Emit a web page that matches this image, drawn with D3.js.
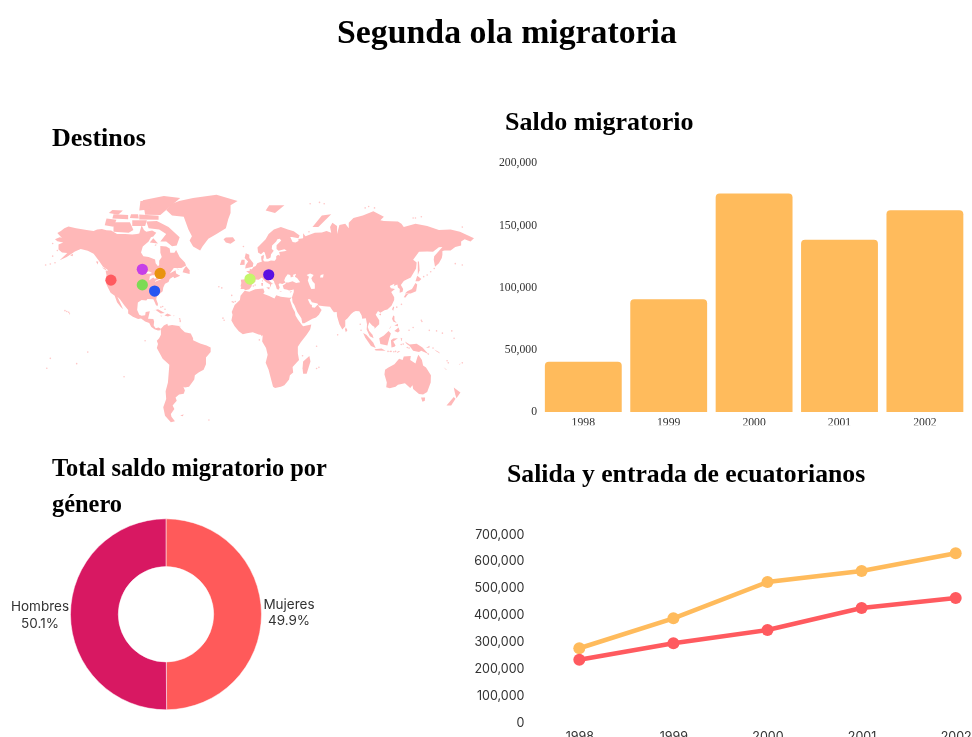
<!DOCTYPE html>
<html lang="es">
<head>
<meta charset="utf-8">
<title>Segunda ola migratoria</title>
<script src="https://cdn.jsdelivr.net/npm/d3@7/dist/d3.min.js"></script>
<style>
html,body{margin:0;padding:0;background:#fff;overflow:hidden}
svg{display:block;filter:blur(0.35px)}
.head{font-family:"Liberation Serif",serif;font-weight:700;fill:#000}
.serifAxis text{font-family:"Liberation Serif",serif;font-size:11.7px;fill:#333}
.sansAxis text{font-family:Inter,sans-serif;font-size:12.5px;fill:#333}
.pieLabel{font-family:Inter,sans-serif;font-size:13.5px;fill:#333;text-anchor:middle}
</style>
</head>
<body>
<div id="chart"></div>
<script>
// ---- Text
const mainTitle = "Segunda ola migratoria";
const mapTitle = "Destinos";
const barTitle = "Saldo migratorio";
const pieTitleLines = ["Total saldo migratorio por", "género"];
const lineTitle = "Salida y entrada de ecuatorianos";

// ---- Bar chart data
const years = ["1998", "1999", "2000", "2001", "2002"];
const saldo = [40400, 90500, 175500, 138400, 162000];
const barTicks = [0, 50000, 100000, 150000, 200000];

// ---- Line chart data
const salidas = [274500, 386000, 521000, 562000, 628000];
const entradas = [232000, 293000, 342600, 424500, 461800];
const lineTicks = [0, 100000, 200000, 300000, 400000, 500000, 600000, 700000];

// ---- Donut data
const genero = ["Mujeres", "Hombres"];
const generoPct = [49.9, 50.1];

// ---- Map points [lon, lat]
const destinos = [[-120.2, 42.8], [-93.4, 49.5], [-78.2, 47], [-93.4, 39.7], [-82.9, 35.6], [-1.4, 43.5], [14.6, 46.2]];
const destinoColors = ["#ff5a5f", "#c63fe8", "#e9930f", "#7cdb55", "#2756f2", "#c5f66b", "#5a10e2"];

// ---- Land outlines, lon/lat
const northAmerica = [[-168,65.6],[-164,66.5],[-162,66.2],[-163.5,67],[-166,68.4],[-163,69.3],[-160,70.5],[-156.5,71.3],[-150,70.5],[-141,69.7],[-135,69.3],[-132,70],[-128,70.2],[-124,69.6],[-120,69.5],[-115,68],[-108,68],[-102,67.8],[-98,68],[-96,68.2],[-94,71.8],[-92,69.8],[-90,69],[-85,69.5],[-81.5,68.5],[-84,66.8],[-86,66.5],[-88,64.5],[-93,62],[-94.5,59],[-92.5,57],[-88,56.5],[-82.5,55.2],[-82,53],[-80,51.3],[-79,52],[-79,54.5],[-76.8,56.5],[-78,58.8],[-78,62.3],[-73,62],[-70,61],[-69.5,58.8],[-66,58.8],[-64.5,60.3],[-61.5,56.5],[-57,53.5],[-56,51.8],[-60,50.2],[-66.5,50.2],[-70,47],[-65,49],[-64.5,47],[-61,45.5],[-66,44],[-67,45],[-70,43.5],[-71,41.6],[-74,40.5],[-75.5,38],[-76,35.5],[-78.5,33.8],[-81,32],[-81.5,30],[-80,26.8],[-80.5,25.2],[-81.8,26],[-82.8,28],[-84,30],[-89,30.2],[-90,29.2],[-94,29.6],[-97.2,27.8],[-97.8,22.5],[-96,19],[-94,18.2],[-91,18.7],[-90.5,21],[-87,21.5],[-88,18],[-88.5,16],[-84,15.8],[-83.3,14],[-83.7,11],[-82,9],[-79.5,9.5],[-77.5,8.6],[-78,7.5],[-80,7.3],[-83,8.3],[-85.7,10],[-87.5,13],[-91,14],[-94.5,16.2],[-97,15.8],[-101.5,17.5],[-105.5,20],[-105.5,22.5],[-109,26],[-112.5,30],[-114.7,31.8],[-112,27],[-109.8,23],[-112,24.8],[-115,28],[-117,32.5],[-120.5,34.5],[-122.5,37.5],[-124.2,40.3],[-124,46],[-124.7,48.4],[-122.5,49],[-127,51],[-130.5,54.5],[-135,58.3],[-140,59.8],[-146,60.8],[-151,59.5],[-158,56.5],[-164,54.7],[-157.5,58.7],[-162,59],[-165,60.5],[-165,63],[-161,64],[-166,64.6]];
const greenland = [[-73,78.2],[-68,76],[-58,75.5],[-54,70],[-51,67],[-53,65],[-50,62],[-44,60],[-42,62],[-37,65.8],[-30,68],[-22,70.5],[-20,74.5],[-18,77],[-18,80],[-12,81.5],[-30,83.6],[-50,82.5],[-62,81.5],[-68,80.5]];
const southAmerica = [[-77.5,8.6],[-75,11],[-72,12.3],[-71.5,10.8],[-68,11.5],[-62,10.7],[-60,8.5],[-57,6],[-52,5],[-50,1.5],[-50,0],[-44,-2.5],[-38.5,-4],[-35,-5.5],[-35,-9],[-39,-13],[-39,-18],[-41,-22],[-45,-23.8],[-48.5,-26],[-49,-29],[-53.5,-34],[-57,-34.5],[-58.3,-34],[-57,-36.5],[-58,-38.5],[-62,-39],[-65,-41],[-64,-43],[-67.5,-46],[-66,-48],[-69,-51],[-68.5,-52.5],[-65.5,-55],[-69,-55.5],[-74,-52],[-75.5,-47],[-73,-42],[-73.5,-37],[-71.5,-31],[-70.3,-18.5],[-76,-14],[-81,-6],[-80,-3],[-81,-0.5],[-79,1.5],[-77.5,4],[-77.5,7]];
const africa = [[-6,35.8],[-2,35.2],[3,36.8],[10,37.3],[11,35],[10,33.8],[15,32.3],[19.5,30.5],[21,32.8],[25,31.7],[32,31],[34.3,31.2],[32.6,29.8],[35,24],[37,21],[37.5,18.5],[39.5,15.5],[43,11.5],[44,10.5],[51,11.8],[50,8],[47,4],[42,-1.5],[39.5,-5],[39.5,-10],[40.5,-15],[35,-20],[35.5,-24],[32.7,-26],[32,-29],[28,-33],[25,-34],[20,-34.8],[18.3,-34],[17,-30],[14.5,-22],[12,-17],[13.7,-11],[12.3,-6],[9,-1],[9.5,3.8],[6,4.3],[1,6],[-4,5.2],[-7.5,4.5],[-11,6.8],[-14.5,10.5],[-17.3,14.7],[-16.3,19],[-17,21],[-14.5,26],[-10,29.5],[-9.5,32.5]];
const eurasia = [[-9.5,37],[-8.8,38.5],[-9.5,38.8],[-8.8,41],[-9.2,43],[-4,43.5],[-1.8,43.4],[-1.2,45],[-2.5,47.3],[-4.7,48.3],[-1.6,48.7],[-1.6,49.7],[0.2,49.5],[1.6,50.9],[3.5,51.5],[4.8,53],[7,53.6],[8.7,53.9],[8.2,55.5],[8.2,57],[10.5,57.7],[10.3,56],[9.8,54.8],[11,54],[14,54],[16.5,54.6],[18.7,54.5],[19.8,54.4],[21,55.5],[21,57],[22.6,57.7],[24.3,57.2],[23.5,59.2],[28,59.6],[30,60],[28,60.6],[23,59.9],[21.3,60.8],[21.3,62.7],[25.3,65],[24,65.8],[22,65.6],[21,64.5],[17.5,62.5],[17.2,60.7],[18.9,59.9],[16.6,58],[16.2,56.2],[14.3,55.5],[12.8,55.4],[11.2,58.9],[10.3,59.3],[8,58],[5.5,58.9],[5,61.5],[8,63.3],[12,65.5],[14.5,68],[19,70],[25,71],[31,70],[36,69.2],[41,67.3],[40,66],[34.5,66.6],[33,66.6],[35,64.2],[37.5,64],[40,64.7],[40,65.7],[44,66],[44,68.3],[46,67],[54,68.5],[60,68.7],[64,69.3],[68,68.5],[67,71],[69,73],[73,71.5],[73,68],[75,72],[80,72.5],[83,70.5],[83,73],[87,75],[95,76],[104,77.7],[113,75.5],[110,74],[113,73.7],[125,73.5],[128,72.5],[130,71],[140,72.5],[150,71.5],[160,69.7],[170,70],[178,69],[190,66],[187,64.5],[182,65.5],[179,64.5],[179,62.5],[174,61.8],[170,60],[165,60],[163,59.7],[163,57.8],[162.5,56],[160,53],[156.7,51],[155.6,55],[156,57],[163,61.8],[160,61.7],[155,59.3],[150,59.5],[143,59.3],[138,55],[141,53.5],[140.5,50],[136,44.5],[132,43],[130,42.3],[127.5,39.7],[129.5,37],[129,35.2],[126.5,34.4],[126.6,37],[125,38],[124.5,40],[121.5,39],[122,40.5],[118,39],[119,37.5],[122.5,37],[119.3,35],[121.8,31.5],[121.8,29.5],[119.5,25.5],[116,22.9],[113.5,22.2],[110,20.5],[108,21.7],[106,19],[109,15],[109,12],[105,8.7],[105,10],[103,11],[100.5,13.5],[99.2,10],[100.5,7],[103.3,4],[104.2,1.4],[101,3],[98.3,8],[98.6,12],[97.6,16.5],[94.5,16],[94,18.5],[92,21.5],[89,21.8],[87,21],[85,19.5],[82,16.5],[80,15],[80,10.5],[77.5,8],[75,12],[73,18],[72.7,21],[70.3,20.8],[69,22.3],[67,24.7],[62,25.2],[57,25.7],[56.3,27],[51.5,28],[50,30],[48,30],[50,26.5],[51.5,26],[51.5,24.5],[54,24],[56.3,26.2],[59.8,22.5],[57.5,19],[55,17],[52,16],[45,12.8],[43.3,12.8],[42.5,16.5],[39,21],[36.5,26],[35,28],[34.5,31.5],[36,35],[36,36.7],[32,36],[30.5,36.5],[27.5,37],[26.5,39.3],[29,40.5],[29.2,41.2],[31.5,41.2],[35,42],[38,41],[41.5,41.5],[39,44],[37,45],[38,46.8],[35,46],[36,45.2],[33.5,44.5],[33,46],[30.8,46.5],[28.8,44.5],[27.8,42.5],[29,41.2],[26.2,40.3],[24,40.8],[23,40],[24,38],[23,36.5],[21.5,37],[20.5,39.5],[19.5,41],[19,42.3],[15,44.5],[13.7,45.7],[12.3,45.2],[12.5,44],[16,41.8],[18.5,40.2],[17,40.4],[16,38],[15.7,40],[12.5,41.5],[10.3,43],[8.8,44.4],[6,43],[3.2,43.2],[3.2,41.8],[0.3,40],[-0.3,38.5],[-2,36.8],[-5.5,36.1],[-6.5,37]];
const australia = [[114,-22],[116.5,-20.6],[122,-18],[124,-16],[126,-14],[129,-15],[130,-12.3],[136,-12],[135.5,-15],[140,-17.5],[141.5,-13],[142.5,-11],[145.5,-15],[146.5,-19],[149,-20.5],[153.2,-26],[153,-31],[150,-37.5],[146.5,-39],[143,-38.7],[138,-35.5],[137.5,-33],[135.5,-34.7],[131,-31.5],[125,-32.5],[123,-34],[118,-35],[115,-34.3],[115.5,-31],[113.5,-25.5]];
const islands = [
  [[-81,73.7],[-71,71],[-61.5,66.5],[-64,62.5],[-68,62.2],[-73,64.5],[-78,64.5],[-73,68],[-79,70],[-88,70.5],[-90,73.5]],
  [[-118,69],[-105,68.5],[-101,69.8],[-104,73.2],[-118,73.2]],
  [[-91,76.3],[-78,76.2],[-61,82.5],[-75,83.2],[-93,81.8]],
  [[-96,78],[-86,78.5],[-88,81.5],[-95,81.5]],
  [[-125.5,71.8],[-118,71.2],[-115.5,74.2],[-124,74.8]],
  [[-96,74.3],[-79.5,74.2],[-79.5,75.9],[-96,76.4]],
  [[-119,74.8],[-105.5,74.5],[-105.5,76.2],[-118,76.5]],
  [[-104,75],[-96.5,74.8],[-97,76.5],[-103,76.5]],
  [[-122,77],[-114,76.3],[-110,78],[-119,78.2]],
  [[-102,71.5],[-91,71.5],[-89.5,74],[-102,74]],
  [[-87,64],[-80,63.5],[-84,66]],
  [[-83,62.3],[-81,62.8],[-82,63.2]],
  [[-59,47.7],[-53,46.7],[-53,49],[-56,51.5],[-58,49.5]],
  [[-64.5,49.8],[-61.7,49.2],[-63,49.9]],
  [[-128,50.7],[-123.5,48.4],[-125,50]],
  [[-133,54],[-131,54],[-131.5,52.3]],
  [[-85,22],[-80,23],[-74.2,20.2],[-77.7,19.9],[-82,22.5]],
  [[-74.5,18.5],[-72,20],[-68.5,18.6],[-71.5,17.7]],
  [[-78.3,18.3],[-76.3,18.2],[-77,17.7]],
  [[-67.2,18.4],[-65.7,18.3],[-66.5,17.9]],
  [[-156,20.7],[-155,19.8],[-155.6,19]],
  [[-155,57.5],[-152.5,58.3],[-153,57]],
  [[-61.8,10.7],[-61,10.8],[-61,10.1]],
  [[-61,-51.7],[-58,-51.2],[-59,-52.3]],
  [[-24,65.5],[-22,64],[-18,63.4],[-14,65],[-16,66.5],[-22,66.4]],
  [[44,-16],[49.3,-12],[50.3,-16],[47,-25],[44,-25],[43.5,-21]],
  [[-5.5,50],[1,51],[1.5,53],[-2,56],[-2,57.7],[-5,58.6],[-6,56],[-3,54],[-5,52]],
  [[-10,52],[-6,52.2],[-6,55],[-8.5,55]],
  [[12,78],[20,77],[28,80],[15,80]],
  [[52,71],[57,71],[68,76.5],[60,76]],
  [[12.5,38],[15.5,38.2],[15,36.7]],
  [[8.2,41],[9.7,41],[9.6,39.1],[8.5,39]],
  [[8.7,42.5],[9.5,43],[9.3,41.5]],
  [[23.6,35.5],[26.2,35.2],[24.8,34.9]],
  [[32.3,35],[34.5,35.6],[33.5,34.7]],
  [[142,46],[143.5,49],[143,54],[142,54],[142,49]],
  [[131,34],[136,34],[140.5,35.5],[141.5,40],[140,41],[137,37],[133,35.5]],
  [[140,42],[141.5,45.5],[145,43.5],[143,42]],
  [[130,31.5],[131.5,33.5],[134.5,34],[133,33],[131.5,31.3]],
  [[120,23],[121,25],[121.8,24.5],[121,22]],
  [[108.7,19.3],[110.5,20],[110.5,18.5]],
  [[79.8,8],[80.5,9.7],[81.8,7.5],[80.5,6]],
  [[120,16],[121,18.5],[122,18],[122,15],[124,13],[121,14]],
  [[122,7],[125.5,9.5],[126.5,7],[125,5.7]],
  [[122,11],[125,12.3],[125,10.5]],
  [[117.3,8.5],[119.5,11],[118.5,9.2]],
  [[109,1.5],[113,3.5],[117,7],[119,5],[117.5,1],[116,-4],[110,-3]],
  [[95.3,5.5],[98,4],[104,-2],[106,-6],[102,-4.5],[97,2]],
  [[105,-6.8],[111,-6.3],[114.5,-8],[106,-7.8]],
  [[119.5,-5.5],[119,0],[121,1.3],[125,1.5],[121,-1],[123,-4],[122,-5]],
  [[127.5,2],[128.5,0],[127.8,-0.8]],
  [[124,-9.8],[127,-8.4],[125,-8.3]],
  [[116,-8.8],[120,-8.3],[119,-9]],
  [[131,-1],[135,-3.3],[141,-2.7],[146,-5.5],[151,-10.5],[145,-8],[143,-9],[138,-8],[135,-4.5],[132.5,-3]],
  [[149,-6],[152,-4.2],[152,-5.5]],
  [[156,-7],[160,-9],[161,-10],[158,-8.6]],
  [[177,-18],[178.5,-17.5],[178,-18.3]],
  [[164,-20.3],[167,-22.2],[165.8,-21.8]],
  [[144.7,-41],[148.2,-41],[148,-43],[146,-43.6]],
  [[172.7,-34.5],[178.4,-37.7],[175,-41.5],[174,-39]],
  [[172.7,-40.7],[174.2,-41.7],[170.5,-46],[166.5,-46]]
];
const lakes = [
  [[-91,46.9],[-88,48.3],[-85,47.3],[-87,46.8]],
  [[-87.5,42.5],[-87,45.3],[-85,45.8],[-82,45.8],[-81,44.8],[-82.5,43.5],[-84,44.5],[-86,43.5]],
  [[-82.5,41.8],[-79.5,42.8],[-77,43.5],[-77,43.9],[-79.5,43.4],[-82.5,42.2]],
  [[47,46],[50,47],[53,46],[51,44],[52,42],[54,40.5],[54,37.2],[51,37],[49.5,39.5],[48,42.5],[49,45]],
  [[59,46],[61.5,46.5],[61,44.5],[58.5,44.5]]
];
// small islands, lon/lat
const specks = [[145,15],[145.5,14],[138,9.5],[151.8,7.4],[158,7],[163,5.3],[171,7],[173,1.4],[167,-15.5],[168,-17],[180,-17],[-175,-21],[-172,-13.7],[-149.5,-17.6],[-140,-9],[-157.9,21.4],[-159.5,22],[-156.3,20.8],[-91,-0.5],[-109,-27],[-36.5,-54.3],[-25.5,37.7],[-28,38.5],[-17,32.7],[-15.5,28],[-16.5,28.3],[-14,28.5],[-23.5,15],[-24.5,16.5],[6.6,0.2],[8.7,3.5],[43.5,-11.7],[57.5,-20.3],[55.5,-21.1],[55.5,-4.6],[73.5,4],[92.8,12],[93.5,7.5],[-61,15],[-61.5,16],[-61,14],[-77.5,24.5],[-76,25],[-74,23],[-7,62],[3,39.6],[1.5,39],[147,45],[150,46],[153,48],[156,50],[-176,52],[-172,52.6],[180,52],[174,52.8],[-168,53.3],[-170,57],[-170,63.5],[-166,60],[180,71],[140,75],[145,75.5],[138,75],[97,79],[100,79.5],[105,79],[50,80.5],[58,81],[62,80.5],[49,69],[128,26.5],[124,24.5],[116.5,-8.5],[119,-8.5],[121.5,-8.7],[123,-8.5],[127.8,-3.3],[129.5,-3],[128,1],[133,-5.5],[134.5,-6],[134.5,7.5],[151,-10.5],[155,-6]];

const W = 972, H = 737;
const svg = d3.select("#chart").append("svg").attr("width", W).attr("height", H).attr("viewBox", [0, 0, W, H]);

// ---- Headings
const heading = (txt, x, y, size, anchor) => svg.append("text").attr("class", "head")
  .attr("x", x).attr("y", y).attr("font-size", size).attr("text-anchor", anchor || "start").text(txt);
heading(mainTitle, 507, 43, 33.8, "middle");
heading(mapTitle, 52, 146, 26);
heading(barTitle, 505, 130, 26);
pieTitleLines.forEach((t, i) => heading(t, 52, 476 + i * 36, 24.4));
heading(lineTitle, 507, 482, 25.7);

// ---- Map (Miller latitude, with a piecewise fit to the reference)
const miller = lat => 1.25 * Math.log(Math.tan(Math.PI / 4 + 0.4 * lat * Math.PI / 180));
const mapX = d3.scaleLinear().domain([-168, 190]).range([55, 474]);
const mapY = d3.scaleLinear().domain([-1.1, 0.68, 1.51, 2]).range([423.4, 288.7, 227.3, 193.7]);
const coast = d3.line().x(d => mapX(d[0])).y(d => mapY(miller(d[1]))).curve(d3.curveLinearClosed);
const land = [northAmerica, greenland, southAmerica, africa, eurasia, australia, ...islands];
svg.append("g").selectAll("path").data(land).join("path").attr("d", coast).attr("fill", "#ffb8b8");
svg.append("g").selectAll("circle").data(specks).join("circle")
  .attr("cx", d => mapX(d[0])).attr("cy", d => mapY(miller(d[1]))).attr("r", 0.8)
  .attr("fill", "#ffb8b8").attr("opacity", 0.8);
svg.append("g").selectAll("path").data(lakes).join("path").attr("d", coast).attr("fill", "#fff");
svg.append("g").selectAll("circle").data(destinos).join("circle")
  .attr("cx", d => mapX(d[0])).attr("cy", d => mapY(miller(d[1]))).attr("r", 5.6)
  .attr("fill", (d, i) => destinoColors[i]);

// ---- Bars
const barX = d3.scaleBand().domain(years).range([540.6, 967.6]).paddingInner(0.1).paddingOuter(0.05);
const barY = d3.scaleLinear().domain([0, 200000]).range([412, 163]);
const topRound = (x, y, w, h, r) => `M${x},${y + h}V${y + r}Q${x},${y} ${x + r},${y}H${x + w - r}Q${x + w},${y} ${x + w},${y + r}V${y + h}Z`;
svg.append("g").selectAll("path").data(saldo).join("path")
  .attr("fill", "#ffbb5c")
  .attr("d", (d, i) => topRound(barX(years[i]), barY(d), barX.bandwidth(), barY(0) - barY(d), 4));
const barLeft = svg.append("g").attr("class", "serifAxis").attr("transform", "translate(537,-1)")
  .call(d3.axisLeft(barY).tickValues(barTicks).tickFormat(d3.format(",")).tickSize(0).tickPadding(0));
barLeft.select(".domain").remove();
svg.append("clipPath").attr("id", "barClip").append("rect").attr("x", 530).attr("y", 412).attr("width", 442).attr("height", 13.2);
const barBottom = svg.append("g").attr("clip-path", "url(#barClip)").append("g")
  .attr("class", "serifAxis").attr("transform", "translate(0,412)")
  .call(d3.axisBottom(barX).tickSize(0).tickPadding(6));
barBottom.select(".domain").remove();

// ---- Donut
const pieGroup = svg.append("g").attr("transform", "translate(166,614.3)");
const pie = d3.pie().sort(null).value(d => d);
const arc = d3.arc().innerRadius(47.7).outerRadius(95.5);
pieGroup.selectAll("path").data(pie(generoPct)).join("path")
  .attr("d", arc).attr("fill", (d, i) => ["#ff5a5a", "#d81862"][i]).attr("stroke", "#fff").attr("stroke-width", 0.5);
const pieLabels = [[289, 608.5], [40, 611]];
genero.forEach((g, i) => {
  svg.append("text").attr("class", "pieLabel").attr("x", pieLabels[i][0]).attr("y", pieLabels[i][1]).text(g);
  svg.append("text").attr("class", "pieLabel").attr("x", pieLabels[i][0]).attr("y", pieLabels[i][1] + 16.5).text(generoPct[i] + "%");
});

// ---- Lines
const lineX = d3.scalePoint().domain(years).range([579.3, 955.7]);
const lineY = d3.scaleLinear().domain([0, 700000]).range([722, 534]);
const leftAxis = svg.append("g").attr("class", "sansAxis").attr("transform", "translate(524.5,0)")
  .call(d3.axisLeft(lineY).tickValues(lineTicks).tickFormat(d3.format(",")).tickSize(0).tickPadding(0));
leftAxis.select(".domain").remove();
const bottomAxis = svg.append("g").attr("class", "sansAxis").attr("transform", "translate(0,722)")
  .call(d3.axisBottom(lineX).tickSize(0).tickPadding(10));
bottomAxis.select(".domain").remove();
const trend = d3.line().x((d, i) => lineX(years[i])).y(d => lineY(d));
[[salidas, "#ffbb5c"], [entradas, "#ff5a5f"]].forEach(([vals, c]) => {
  svg.append("path").attr("d", trend(vals)).attr("fill", "none").attr("stroke", c).attr("stroke-width", 4.6);
  svg.append("g").selectAll("circle").data(vals).join("circle")
    .attr("cx", (d, i) => lineX(years[i])).attr("cy", d => lineY(d)).attr("r", 6).attr("fill", c);
});
</script>
</body>
</html>
